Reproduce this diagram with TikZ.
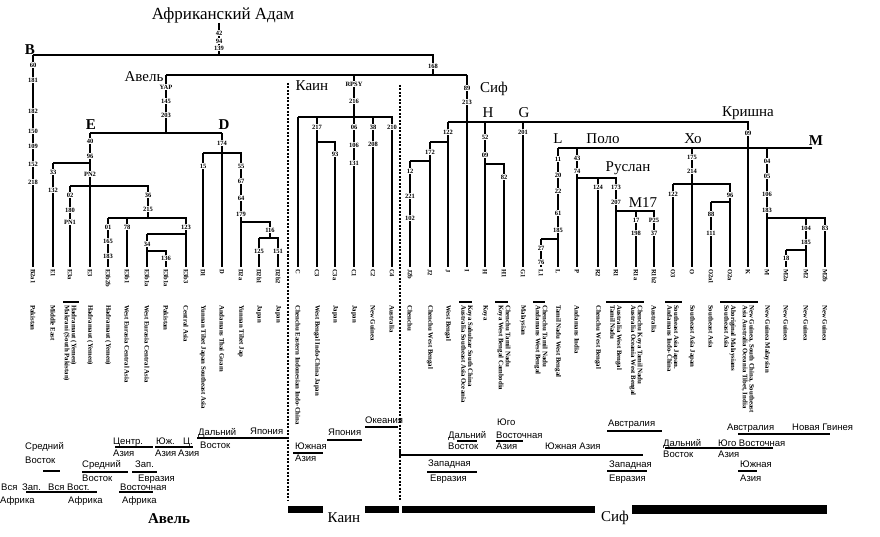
\documentclass[tikz,border=0pt]{standalone}
\usepackage{fontspec}
\setmainfont{Liberation Serif}
\newfontfamily\geofont{Liberation Sans}
\begin{document}
\begin{tikzpicture}[x=1pt,y=-1pt,
    treeline/.style={line width=1.1pt},
    mutlbl/.style={font=\bfseries\fontsize{6.5}{6.5}\selectfont, fill=white, inner sep=0.4pt},
    hgcode/.style={font=\bfseries\fontsize{6.5}{6.5}\selectfont, rotate=-90, anchor=west, inner sep=0pt},
    popl/.style={font=\bfseries\fontsize{6.8}{6.8}\selectfont, rotate=-90, anchor=west, align=left, inner sep=0pt},
    cladename/.style={font=\fontsize{15}{15}\selectfont, inner sep=0pt},
    hgname/.style={font=\bfseries\fontsize{15}{15}\selectfont, inner sep=0pt},
    geolbl/.style={font=\geofont\fontsize{9.5}{9.5}\selectfont, anchor=base west, inner sep=0pt},
    rangeline/.style={line width=1.7pt},
    bracketline/.style={line width=1.5pt},
    cainline/.style={line width=1.1pt, dash pattern=on 2pt off 1.5pt}]
  \useasboundingbox (0,0) rectangle (880,537);

  % leaves: stem end, haplogroup, populations
  \foreach \x/\c/\d [count=\i] in {
      33/B2a1/Pakistan, 53/E1/Middle East,
      70/E3a/{Hadramaut (Yemen)\\Makrani (South Pakistan)},
      90/E3/Hadramaut (Yemen), 108/E3b2b/Hadramaut (Yemen),
      127/E3b1/West Eurasia Central Asia, 147/E3b1a/West Eurasia Central Asia,
      166/E3b1a/Pakistan, 186/E3b3/Central Asia,
      203/D1/Yunnan Tibet Japan Southeast Asia, 222/D/Andamans Thai Guam,
      241/D2a/Yunnan Tibet Jap, 259/D2b1/Japan, 278/D2b2/Japan,
      298/C/Chenchu Eastern Indonesian Indo-China,
      317/C3/West Bengal Indo-China Japan, 335/C3a/Japan, 354/C1/Japan,
      373/C2/New Guinea, 392/C4/Australia,
      410/J2b/Chenchu, 430/J2/Chenchu West Bengal, 448/J/West Bengal,
      467/I/{Koya Sahulzar South China\\Australia Southeast Asia Oceania},
      485/H/Koya, 504/H1/{Chenchu Tamil Nadu\\Koya West Bengal Cambodia},
      523/G1/Malaysian, 541/L1/{Chenchu Tamil Nadu\\Andamans West Bengal},
      558/L/Tamil Nadu West Bengal, 577/P/Andamans India,
      598/R2/Chenchu West Bengal, 616/R1/{Australia West Bengal\\Tamil Nadu},
      636/R1a/{Chenchu Koya Tamil Nadu\\Australia Oceania West Bengal},
      654/R1b2/Australia, 673/O3/{Southeast Asia Japan.\\Andamans Indo-China},
      692/O/Southeast Asia Japan, 711/O2a1/Southeast Asia,
      730/O2a/{Aboriginal Malaysians\\Southeast Asia},
      748/K/{New Guinea, South China, Southeast\\Asia Australia Oceania Tibet, India},
      767/M/New Guinea Malaysian, 786/M2a/New Guinea,
      806/M2/New Guinea, 825/M2b/New Guinea} {
    \coordinate (lf\i) at (\x,267);
    \node[hgcode] (cd\i) at (\x,269) {\c};
    \node[popl] (sp\i) at (\x,305) {\d};
  }
  \draw[bracketline] (63,302) -- (79,302);
  \draw[bracketline] (459,302) -- (472,302);
  \draw[bracketline] (495,302) -- (508,302);
  \draw[bracketline] (533,302) -- (545,302);
  \draw[bracketline] (606,302) -- (644,302);
  \draw[bracketline] (665,302) -- (682,302);
  \draw[bracketline] (720,302) -- (758,302);

  % branch points
  \coordinate (r0) at (219,23);
  \coordinate (r1) at (219,55);
  \coordinate (bB) at (33,55);
  \coordinate (m168) at (433,55);
  \coordinate (m168b) at (433,75);
  \coordinate (yap) at (166,75);
  \coordinate (rpsy) at (354,75);
  \coordinate (m89) at (467,75);
  \coordinate (yapb) at (166,133);
  \coordinate (eE) at (90,133);
  \coordinate (dD) at (222,133);
  \coordinate (e33) at (53,163);
  \coordinate (pn2) at (90,163);
  \coordinate (e02) at (70,186);
  \coordinate (e36) at (148,186);
  \coordinate (e36b) at (148,218);
  \coordinate (e01) at (108,218);
  \coordinate (e78) at (127,218);
  \coordinate (e123) at (186,218);
  \coordinate (e34) at (147,234);
  \coordinate (e123b) at (186,234);
  \coordinate (e34b) at (147,251);
  \coordinate (e136) at (166,251);
  \coordinate (d15) at (203,153);
  \coordinate (d55) at (241,153);
  \coordinate (d179) at (241,222);
  \coordinate (d116) at (270,222);
  \coordinate (d116b) at (270,238);
  \coordinate (d125) at (259,238);
  \coordinate (d151) at (278,238);
  \coordinate (cC) at (298,117);
  \coordinate (c217a) at (317,117);
  \coordinate (c38) at (373,117);
  \coordinate (c210) at (392,117);
  \coordinate (c217) at (317,142);
  \coordinate (c93) at (335,142);
  \coordinate (f122) at (448,122);
  \coordinate (fH) at (485,122);
  \coordinate (fG) at (523,122);
  \coordinate (fK) at (748,122);
  \coordinate (f172) at (430,142);
  \coordinate (f122b) at (448,142);
  \coordinate (f12) at (410,161);
  \coordinate (f172b) at (430,161);
  \coordinate (h52) at (485,164);
  \coordinate (h82) at (504,164);
  \coordinate (kL) at (558,148);
  \coordinate (kP) at (577,148);
  \coordinate (kO) at (692,148);
  \coordinate (kM) at (767,148);
  \coordinate (kEnd) at (812,148);
  \coordinate (l27) at (541,239);
  \coordinate (l185) at (558,239);
  \coordinate (p74) at (577,178);
  \coordinate (p124) at (598,178);
  \coordinate (p173) at (616,178);
  \coordinate (r207) at (616,211);
  \coordinate (r17) at (636,211);
  \coordinate (r25) at (654,211);
  \coordinate (o122) at (673,184);
  \coordinate (o96) at (730,184);
  \coordinate (o88) at (711,202);
  \coordinate (o96b) at (730,202);
  \coordinate (m183) at (767,218);
  \coordinate (m104) at (806,218);
  \coordinate (m83) at (825,218);
  \coordinate (m18) at (786,250);
  \coordinate (m185) at (806,250);

  % tree
  \draw[treeline] (r0) -- (r1);
  \draw[treeline] (bB) -- (m168) -- (m168b);
  \draw[treeline] (yap) -- (m89);
  \draw[treeline] (bB) -- (lf1);
  \draw[treeline] (yap) -- (yapb);
  \draw[treeline] (eE) -- (dD);
  \draw[treeline] (eE) -- (lf4);
  \draw[treeline] (e33) -- (pn2);
  \draw[treeline] (e33) -- (lf2);
  \draw[treeline] (e02) -- (e36) -- (e36b);
  \draw[treeline] (e02) -- (lf3);
  \draw[treeline] (e01) -- (e123) -- (lf9);
  \draw[treeline] (e01) -- (lf5);
  \draw[treeline] (e78) -- (lf6);
  \draw[treeline] (e34) -- (e123b);
  \draw[treeline] (e34) -- (lf7);
  \draw[treeline] (e34b) -- (e136) -- (lf8);
  \draw[treeline] (dD) -- (lf11);
  \draw[treeline] (d15) -- (d55) -- (lf12);
  \draw[treeline] (d15) -- (lf10);
  \draw[treeline] (d179) -- (d116) -- (d116b);
  \draw[treeline] (d125) -- (d151) -- (lf14);
  \draw[treeline] (d125) -- (lf13);
  \draw[treeline] (rpsy) -- (lf18);
  \draw[treeline] (cC) -- (c210) -- (lf20);
  \draw[treeline] (cC) -- (lf15);
  \draw[treeline] (c217a) -- (lf16);
  \draw[treeline] (c217) -- (c93) -- (lf17);
  \draw[treeline] (c38) -- (lf19);
  \draw[treeline] (m89) -- (lf24);
  \draw[treeline] (f122) -- (fK) -- (lf39);
  \draw[treeline] (f122) -- (lf23);
  \draw[treeline] (f172) -- (f122b);
  \draw[treeline] (f172) -- (lf22);
  \draw[treeline] (f12) -- (f172b);
  \draw[treeline] (f12) -- (lf21);
  \draw[treeline] (fH) -- (lf25);
  \draw[treeline] (h52) -- (h82) -- (lf26);
  \draw[treeline] (fG) -- (lf27);
  \draw[treeline] (kL) -- (kEnd);
  \draw[treeline] (kL) -- (lf29);
  \draw[treeline] (l27) -- (l185);
  \draw[treeline] (l27) -- (lf28);
  \draw[treeline] (kP) -- (lf30);
  \draw[treeline] (p74) -- (p173) -- (lf32);
  \draw[treeline] (p124) -- (lf31);
  \draw[treeline] (r207) -- (r25) -- (lf34);
  \draw[treeline] (r17) -- (lf33);
  \draw[treeline] (kO) -- (lf36);
  \draw[treeline] (o122) -- (o96) -- (lf38);
  \draw[treeline] (o122) -- (lf35);
  \draw[treeline] (o88) -- (o96b);
  \draw[treeline] (o88) -- (lf37);
  \draw[treeline] (kM) -- (lf40);
  \draw[treeline] (m183) -- (m83) -- (lf43);
  \draw[treeline] (m104) -- (lf42);
  \draw[treeline] (m18) -- (m185);
  \draw[treeline] (m18) -- (lf41);

  % mutations
  \foreach \x/\y/\t in {
      219/33/42, 219/41/94, 219/48/139,
      33/65/60, 33/80/181, 33/111/182, 33/131/150, 33/146/109, 33/164/152, 33/182/218,
      433/66/168, 166/87/YAP, 166/101/145, 166/115/203,
      90/141/40, 90/156/96, 90/174/PN2, 53/172/33, 53/190/132,
      70/195/02, 70/210/180, 70/222/PN1, 148/195/36, 148/209/215,
      108/227/01, 108/241/165, 108/256/183, 127/227/78, 186/227/123,
      147/244/34, 166/258/136,
      222/143/174, 203/166/15, 241/166/55, 241/181/67, 241/198/64, 241/214/179,
      270/230/116, 259/251/125, 278/251/151,
      354/84/RPSY, 354/101/216, 354/127/06, 354/145/106, 354/163/131,
      317/127/217, 335/154/93, 373/127/38, 373/144/208, 392/127/210,
      467/88/89, 467/102/213,
      448/132/122, 430/152/172, 410/171/12, 410/196/221, 410/218/102,
      485/137/52, 485/155/09, 504/177/82, 523/132/201, 748/133/09,
      558/159/11, 558/175/20, 558/191/22, 558/213/61, 558/230/185,
      541/248/27, 541/262/76,
      577/158/43, 577/171/74, 598/187/124, 616/187/173, 616/202/207,
      636/220/17, 636/233/198, 654/220/P25, 654/233/37,
      692/157/175, 692/171/214, 673/194/122, 730/195/96, 711/214/88, 711/233/111,
      767/161/04, 767/176/05, 767/194/106, 767/210/183,
      806/228/104, 806/242/185, 825/228/83, 786/258/18} {
    \node[mutlbl] (n\x-\y) at (\x,\y) {\t};
  }

  % names of lineages
  \node[cladename, font=\fontsize{17}{17}\selectfont] (adam) at (223,15) {Африканский Адам};
  \node[hgname] (hB) at (30,50) {B};
  \node[cladename] (abel) at (144,77) {Авель};
  \node[hgname] (hE) at (91,125) {E};
  \node[hgname] (hD) at (224,125) {D};
  \node[cladename] (cain) at (312,86) {Каин};
  \node[cladename] (seth) at (494,89) {Сиф};
  \node[cladename] (hH) at (488,113) {H};
  \node[cladename] (hG) at (524,113) {G};
  \node[cladename] (krishna) at (748,113) {Кришна};
  \node[cladename] (hL) at (558,139) {L};
  \node[cladename] (polo) at (603,139) {Поло};
  \node[cladename] (ho) at (693,139) {Хо};
  \node[hgname] (hM) at (816,141) {M};
  \node[cladename] (ruslan) at (628,168) {Руслан};
  \node[cladename] (m17) at (643,203) {M17};

  % borders of Cain
  \coordinate (cl1) at (288,83);
  \coordinate (cl2) at (288,500);
  \coordinate (cr1) at (400,85);
  \coordinate (cr2) at (400,500);
  \draw[cainline] (cl1) -- (cl2);
  \draw[cainline] (cr1) -- (cr2);

  % geography
  \foreach \x/\y/\t [count=\i] in {
      25/449/Средний, 25/463/Восток,
      1/490/Вся, 22/490/Зап., 48/490/Вся, 67/490/Вост., 0/503/Африка, 68/503/Африка,
      82/467/Средний, 82/481/Восток, 135/467/Зап., 138/481/Евразия,
      120/490/Восточная, 122/503/Африка,
      113/444/Центр., 113/456/Азия, 156/444/Юж., 155/456/Азия, 183/444/Ц., 178/456/Азия,
      198/435/Дальний, 200/448/Восток, 250/434/Япония,
      295/449/Южная, 295/461/Азия, 328/435/Япония, 365/423/Океания,
      448/438/Дальний, 448/449/Восток, 497/425/Юго, 496/438/Восточная, 496/449/Азия,
      545/449/Южная Азия, 428/466/Западная, 430/481/Евразия,
      608/426/Австралия, 609/467/Западная, 609/481/Евразия,
      663/446/Дальний, 663/457/Восток, 718/446/Юго Восточная, 718/457/Азия,
      727/430/Австралия, 792/430/Новая Гвинея, 740/467/Южная, 740/481/Азия} {
    \node[geolbl] (g\i) at (\x,\y) {\t};
  }
  \foreach \a/\b/\y in {43/60/471, 26/97/492, 82/128/472, 132/157/472, 119/153/492,
      115/153/447, 155/177/447, 177/193/447, 197/289/438,
      293/323/453, 327/362/440, 365/398/427,
      457/477/441, 496/523/441, 427/477/472,
      607/662/431, 607/647/471, 665/773/448, 738/830/434, 738/757/471} {
    \draw[rangeline] (\a,\y) -- (\b,\y);
  }
  \draw[rangeline] (400,451) -- (400,455) -- (643,455);

  % bars of the three lineages
  \fill (288,506) rectangle (323,513);
  \fill (365,506) rectangle (399,513);
  \fill (402,506) rectangle (595,513);
  \fill (632,505) rectangle (827,514);
  \node[hgname] (abelb) at (169,519) {Авель};
  \node[cladename] (cainb) at (344,518) {Каин};
  \node[cladename] (sethb) at (615,518) {Сиф};
\end{tikzpicture}
\end{document}
